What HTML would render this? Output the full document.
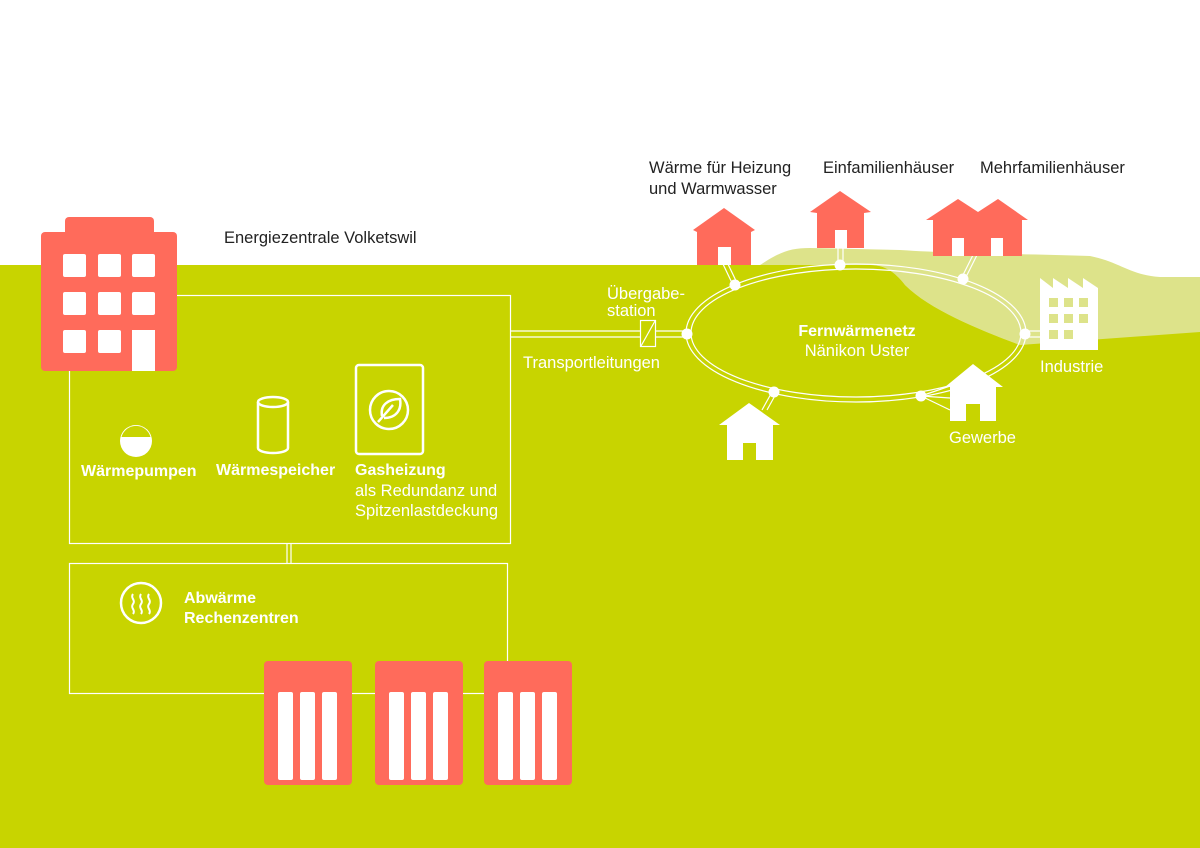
<!DOCTYPE html>
<html><head><meta charset="utf-8"><style>
html,body{margin:0;padding:0;background:#fff}
svg{display:block}
text{font-family:"Liberation Sans","DejaVu Sans",sans-serif}
</style></head><body>
<svg width="1200" height="848" viewBox="0 0 1200 848" xmlns="http://www.w3.org/2000/svg">
<rect x="0" y="0" width="1200" height="848" fill="#fff"/>
<path d="M760 265 C780 252 790 248 810 248 L900 250 C960 254 1040 254 1090 256 C1120 262 1130 275 1160 277 L1200 277 L1200 340 L1020 345 C980 330 930 310 905 285 C895 272 885 265 870 265 Z" fill="#dde38a"/>
<path d="M0 265 L870 265 C885 265 895 272 905 285 C930 310 980 330 1020 345 L1200 332 L1200 848 L0 848 Z" fill="#c8d400"/>

<g stroke="#fff" fill="none" stroke-width="1.2">
<rect x="69.5" y="295.5" width="441" height="248"/>
<rect x="69.5" y="563.5" width="438" height="130"/>
<line x1="287" y1="543" x2="287" y2="563"/><line x1="291" y1="543" x2="291" y2="563"/>
<line x1="511" y1="331" x2="640" y2="331"/><line x1="511" y1="337" x2="640" y2="337"/>
<line x1="656" y1="331" x2="687" y2="331"/><line x1="656" y1="337" x2="687" y2="337"/>
<rect x="640.5" y="320.5" width="15" height="26"/>
<line x1="641" y1="346" x2="655" y2="321"/>
<ellipse cx="856" cy="333" rx="170" ry="69"/>
<ellipse cx="856" cy="333" rx="165" ry="64"/>
<line x1="722" y1="262" x2="733" y2="285"/><line x1="727" y1="262" x2="738" y2="285"/>
<line x1="838" y1="248" x2="838" y2="265"/><line x1="843" y1="248" x2="843" y2="265"/>
<line x1="973" y1="255" x2="961" y2="279"/><line x1="977" y1="255" x2="965" y2="279"/>
<line x1="1025" y1="331" x2="1040" y2="331"/><line x1="1025" y1="337" x2="1040" y2="337"/>
<line x1="921" y1="396" x2="950" y2="410"/><line x1="921" y1="396" x2="950" y2="386"/><line x1="921" y1="396" x2="950" y2="398"/>
<line x1="772" y1="392" x2="762" y2="410"/><line x1="777" y1="392" x2="767" y2="410"/>
</g>
<g fill="#fff">
<circle cx="735" cy="285" r="5.5"/><circle cx="840" cy="265" r="5.5"/><circle cx="963" cy="279" r="5.5"/>
<circle cx="1025" cy="334" r="5.5"/><circle cx="921" cy="396" r="5.5"/><circle cx="774" cy="392" r="5.5"/><circle cx="687" cy="334" r="5.5"/>
</g>

<rect x="65" y="217" width="89" height="25" rx="4" fill="#ff6b5b"/>
<rect x="41" y="232" width="136" height="139" rx="4" fill="#ff6b5b"/>
<g fill="#fff">
<rect x="63" y="254" width="23" height="23" rx="2"/><rect x="98" y="254" width="23" height="23" rx="2"/><rect x="132" y="254" width="23" height="23" rx="2"/>
<rect x="63" y="292" width="23" height="23" rx="2"/><rect x="98" y="292" width="23" height="23" rx="2"/><rect x="132" y="292" width="23" height="23" rx="2"/>
<rect x="63" y="330" width="23" height="23" rx="2"/><rect x="98" y="330" width="23" height="23" rx="2"/><rect x="132" y="330" width="23" height="41"/>
</g>

<circle cx="136" cy="441" r="16" fill="#fff"/>
<path d="M121.5 437 A15 15 0 0 1 150.5 437 Z" fill="#c8d400"/>
<g stroke="#fff" stroke-width="2.5" fill="none">
<path d="M258 402 L258 448 A15 5 0 0 0 288 448 L288 402"/>
<ellipse cx="273" cy="402" rx="15" ry="5"/>
<rect x="356" y="365" width="67" height="89" rx="3"/>
<circle cx="389" cy="410" r="19"/>
<path d="M378 422 L393 405 M382 416 C380 405 388 399 400 399 C402 410 396 418 384 418"/>
<circle cx="141" cy="603" r="20"/>
<path d="M133 594 c-3 4 3 6 0 10 s3 6 0 10 M141 594 c-3 4 3 6 0 10 s3 6 0 10 M149 594 c-3 4 3 6 0 10 s3 6 0 10" stroke-width="2"/>
</g>

<g fill="#ff6b5b">
<rect x="264" y="661" width="88" height="124" rx="4"/><rect x="375" y="661" width="88" height="124" rx="4"/><rect x="484" y="661" width="88" height="124" rx="4"/>
</g>
<g fill="#fff">
<rect x="278" y="692" width="15" height="88" rx="2"/><rect x="300" y="692" width="15" height="88" rx="2"/><rect x="322" y="692" width="15" height="88" rx="2"/>
<rect x="389" y="692" width="15" height="88" rx="2"/><rect x="411" y="692" width="15" height="88" rx="2"/><rect x="433" y="692" width="15" height="88" rx="2"/>
<rect x="498" y="692" width="15" height="88" rx="2"/><rect x="520" y="692" width="15" height="88" rx="2"/><rect x="542" y="692" width="15" height="88" rx="2"/>
</g>

<g fill="#ff6b5b">
<path d="M693 230 L724 208 L755 230 L751 232 L751 265 L697 265 L697 232 Z"/>
<path d="M810 212 L840 191 L871 212 L864 213 L864 248 L817 248 L817 213 Z"/>
<path d="M926 220 L958 199 L978 212 L998 199 L1028 220 L1022 220 L1022 256 L933 256 L933 220 Z"/>
</g>
<g fill="#fff">
<rect x="718" y="247" width="13" height="18"/><rect x="835" y="230" width="12" height="18"/>
<rect x="952" y="238" width="12" height="18"/><rect x="991" y="238" width="12" height="18"/>
<path d="M945 387 L973 364 L1003 387 L996 387 L996 421 L950 421 L950 387 Z"/>
<path d="M719 425 L749 403 L780 425 L773 425 L773 460 L727 460 L727 425 Z"/>
<path d="M1040 350 L1040 278 L1053 288 L1053 278 L1068 288 L1068 278 L1083 288 L1083 278 L1098 288 L1098 350 Z"/>
</g>
<g fill="#c8d400">
<rect x="743" y="443" width="13" height="17"/><rect x="966" y="404" width="14" height="17"/>
</g>
<g fill="#dde38a">
<rect x="1049" y="298" width="9" height="9"/><rect x="1064" y="298" width="9" height="9"/><rect x="1079" y="298" width="9" height="9"/>
<rect x="1049" y="314" width="9" height="9"/><rect x="1064" y="314" width="9" height="9"/><rect x="1079" y="314" width="9" height="9"/>
<rect x="1049" y="330" width="9" height="9"/><rect x="1064" y="330" width="9" height="9"/>
</g>

<g font-size="16.5" fill="#222">
<text x="224" y="243">Energiezentrale Volketswil</text>
<text x="649" y="173">Wärme für Heizung</text>
<text x="649" y="194">und Warmwasser</text>
<text x="823" y="173">Einfamilienhäuser</text>
<text x="980" y="173">Mehrfamilienhäuser</text>
</g>
<g font-size="16.5" fill="#fff">
<text x="81" y="476" font-weight="bold" font-size="16">Wärmepumpen</text>
<text x="216" y="475" font-weight="bold" font-size="16">Wärmespeicher</text>
<text x="355" y="475" font-weight="bold" font-size="16">Gasheizung</text>
<text x="355" y="496">als Redundanz und</text>
<text x="355" y="516">Spitzenlastdeckung</text>
<text x="184" y="603" font-weight="bold" font-size="16">Abwärme</text>
<text x="184" y="623" font-weight="bold" font-size="16">Rechenzentren</text>
<text x="607" y="299">Übergabe-</text>
<text x="607" y="316">station</text>
<text x="523" y="368">Transportleitungen</text>
<text x="857" y="336" text-anchor="middle" font-weight="bold" font-size="16">Fernwärmenetz</text>
<text x="857" y="356" text-anchor="middle">Nänikon Uster</text>
<text x="1040" y="372">Industrie</text>
<text x="949" y="443">Gewerbe</text>
</g>
</svg>
</body></html>
